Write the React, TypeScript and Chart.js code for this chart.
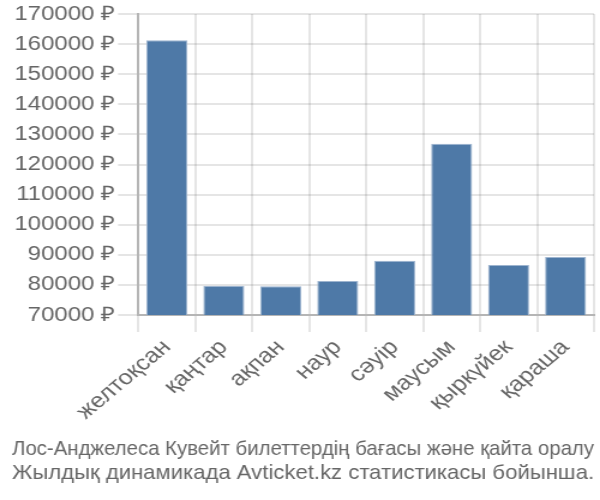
import React, { useEffect, useRef } from 'react';
import { Chart, registerables } from 'chart.js';

Chart.register(...registerables);

const categories: string[] = ['желтоқсан', 'қаңтар', 'ақпан', 'наур', 'сәуір', 'маусым', 'қыркүйек', 'қараша'];
const prices: number[] = [161300, 79700, 79600, 81300, 88000, 126900, 86600, 89300];
const titleLines: string[] = [
  'Лос-Анджелеса Кувейт билеттердің бағасы және қайта оралу',
  'Жылдық динамикада Avticket.kz статистикасы бойынша.',
];
const yMin = 70000;
const yMax = 170000;
const yStep = 10000;
const currency = '₽';

const FONT = '"Liberation Sans", Arial, sans-serif';

export default function App() {
  const ref = useRef<HTMLCanvasElement>(null);

  useEffect(() => {
    if (!ref.current) return;
    const chart = new Chart(ref.current, {
      type: 'bar',
      data: {
        labels: categories,
        datasets: [
          {
            data: prices,
            backgroundColor: '#4e79a7',
            borderColor: '#9db4cf',
            borderWidth: 1,
          },
        ],
      },
      options: {
        responsive: false,
        animation: false,
        layout: { padding: { left: 10, right: 5, top: 8, bottom: 0 } },
        plugins: {
          legend: { display: false },
          tooltip: { enabled: false },
          title: {
            display: true,
            position: 'bottom',
            text: titleLines,
            color: '#666',
            font: { family: FONT, size: 20.2, weight: 'normal', lineHeight: 1.2 },
            padding: { top: 10, bottom: 14 },
          },
        },
        scales: {
          x: {
            grid: { color: 'rgba(0,0,0,0.1)', lineWidth: 2, tickLength: 17 },
            border: { color: '#b5b5b5', width: 2 },
            ticks: {
              color: '#666',
              font: { family: FONT, size: 21 },
              minRotation: 45,
              maxRotation: 45,
              padding: 3,
            },
          },
          y: {
            min: yMin,
            max: yMax,
            grid: { color: 'rgba(0,0,0,0.1)', lineWidth: 2, tickLength: 17 },
            border: { color: '#b5b5b5', width: 2 },
            ticks: {
              stepSize: yStep,
              color: '#666',
              font: { family: FONT, size: 20 },
              padding: 2,
              callback: (v: any) => `${v} ${currency}`,
            },
          },
        },
      },
    });
    return () => chart.destroy();
  }, []);

  return (
    <div
      style={{
        position: 'fixed',
        left: 0,
        top: 0,
        width: 600,
        height: 500,
        overflow: 'hidden',
        background: '#fff',
      }}
    >
      <canvas
        ref={ref}
        width={500}
        height={500}
        style={{ display: 'block', transform: 'scaleX(1.2)', transformOrigin: '0 0' }}
      />
    </div>
  );
}
